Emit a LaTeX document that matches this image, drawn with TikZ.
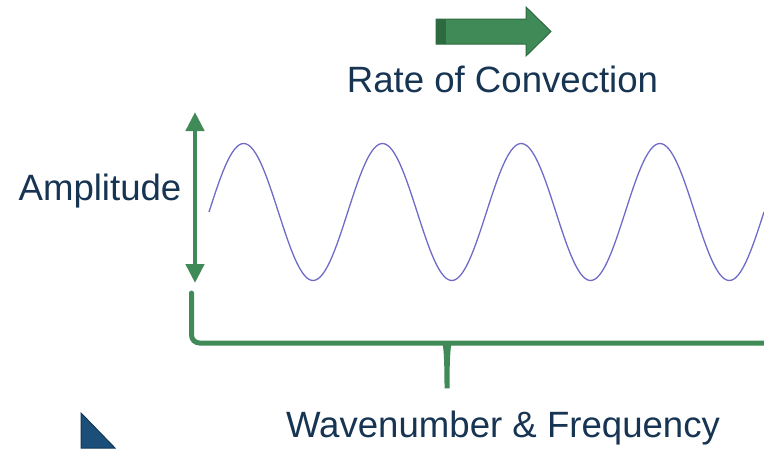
\documentclass[tikz,border=0pt]{standalone}
\usepackage{fontspec}
\setmainfont{Liberation Sans}
\definecolor{ink}{HTML}{173553}
\definecolor{leaf}{HTML}{3F8A56}
\definecolor{leafdark}{HTML}{2D6A3F}
\definecolor{wave}{HTML}{6F6BC6}
\definecolor{navy}{HTML}{1B4E78}
\usepackage{tikz}
\usetikzlibrary{arrows.meta}

\tikzset{
  label/.style={text=ink,inner sep=0pt,anchor=base,font=\fontsize{36.6}{40}\selectfont},
  greenline/.style={draw=leaf,line width=4.5pt},
}

\begin{document}
\begin{tikzpicture}[x=1pt,y=-1pt]
        \useasboundingbox (0,0) rectangle (764,448);
        % flow arrow
        \fill[leaf,draw=leafdark,line width=1pt] (436,19) -- (526,19) -- (526,7) -- (551,31.5) -- (526,56) -- (526,44) -- (436,44) -- cycle;
        \fill[leafdark] (436,19) rectangle (446,44);
        \node[label] (rate) at (502.5,92) {Rate of Convection};
        % wave
        \draw[wave,line width=1.3pt] plot[domain=0:555,samples=240] ({209+\x},{212-68.5*sin(\x/138.75*360)});
        % amplitude
        \coordinate (amptop) at (195,112);
        \coordinate (ampbot) at (195,283);
        \draw[greenline,{Triangle[width=18pt,length=19pt]}-{Triangle[width=18pt,length=19pt]}] (amptop) -- (ampbot);
        \node[label] (amp) at (100,200) {Amplitude};
        % brace
        \coordinate (bl) at (191.5,293);
        \coordinate (bm) at (447,393);
        \coordinate (br) at (764,343);
        \draw[greenline,line width=5pt,line cap=round,rounded corners=8pt] (bl) |- (437,343)
          .. controls (445,343) and (447,350) .. (bm)
          .. controls (447,350) and (449,343) .. (457,343) -- (br);
        \node[label] (wnum) at (503,437) {Wavenumber \& Frequency};
        % corner mark
        \fill[navy,draw=navy!70!black,line width=1pt] (81,413) -- (115,448) -- (81,448) -- cycle;
      \end{tikzpicture}
\end{document}
